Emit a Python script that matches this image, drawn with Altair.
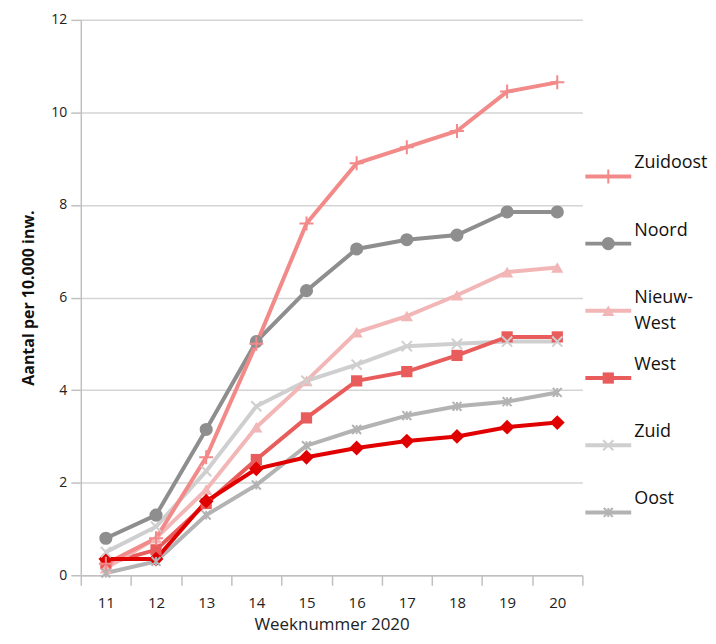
import altair as alt
import pandas as pd

weeks = [11, 12, 13, 14, 15, 16, 17, 18, 19, 20]

zuidoost = [0.25, 0.8, 2.55, 5.0, 7.6, 8.9, 9.25, 9.6, 10.45, 10.65]
noord = [0.8, 1.3, 3.15, 5.05, 6.15, 7.05, 7.25, 7.35, 7.85, 7.85]
nieuw_west = [0.15, 0.8, 1.85, 3.2, 4.2, 5.25, 5.6, 6.05, 6.55, 6.65]
west = [0.25, 0.55, 1.55, 2.5, 3.4, 4.2, 4.4, 4.75, 5.15, 5.15]
zuid = [0.5, 1.05, 2.25, 3.65, 4.2, 4.55, 4.95, 5.0, 5.05, 5.05]
oost = [0.05, 0.3, 1.3, 1.95, 2.8, 3.15, 3.45, 3.65, 3.75, 3.95]
centrum = [0.35, 0.35, 1.6, 2.3, 2.55, 2.75, 2.9, 3.0, 3.2, 3.3]

series_names = ["Oost", "Zuid", "West", "Nieuw-West", "Noord", "Zuidoost", "Centrum"]
series_values = [oost, zuid, west, nieuw_west, noord, zuidoost, centrum]
series_colors = ["#b3b3b3", "#cfcfcf", "#e85c5c", "#f2b6b6", "#8e8e8e", "#f28a8a", "#e00000"]
series_shapes = [
    "M-1,-1L1,1M-1,1L1,-1M0,-1L0,1",
    "M-1,-1L1,1M-1,1L1,-1",
    "square",
    "triangle-up",
    "circle",
    "M-1,0L1,0M0,-1L0,1",
    "diamond",
]
series_sizes = [80, 220, 320, 250, 240, 320, 280]
stroked_series = ["Oost", "Zuid", "Zuidoost"]

legend_names = ["Zuidoost", "Noord", "Nieuw-West", "West", "Zuid", "Oost"]
legend_labels = ["Zuidoost", "Noord", "Nieuw-\nWest", "West", "Zuid", "Oost"]

rows = []
for name, vals in zip(series_names, series_values):
    for w, v in zip(weeks, vals):
        rows.append({"series": name, "week": w, "value": v})
df = pd.DataFrame(rows)

color_scale = alt.Scale(domain=series_names, range=series_colors)
shape_scale = alt.Scale(domain=series_names, range=series_shapes)
size_scale = alt.Scale(domain=series_names, range=series_sizes)

FONT = "Open Sans"

base = alt.Chart(df).encode(
    x=alt.X(
        "week:O",
        scale=alt.Scale(type="band", paddingInner=0, paddingOuter=0),
        axis=alt.Axis(
            title="Weeknummer 2020",
            labelAngle=0,
            tickBand="extent",
            tickSize=10,
            tickColor="#c0c0c0",
            tickWidth=1.5,
            domainColor="#c0c0c0",
            domainWidth=1.5,
            labelFontSize=15,
            labelColor="#222222",
            labelPadding=10,
            titleFontSize=17,
            titleFontWeight="normal",
            titleColor="#222222",
            titlePadding=6,
            grid=False,
        ),
    ),
    y=alt.Y(
        "value:Q",
        scale=alt.Scale(domain=[0, 12], nice=False),
        axis=alt.Axis(
            title="Aantal per 10.000 inw.",
            values=[0, 2, 4, 6, 8, 10, 12],
            tickSize=10,
            tickColor="#c0c0c0",
            tickWidth=1.5,
            domainColor="#c0c0c0",
            domainWidth=1.5,
            gridColor="#d4d4d4",
            gridWidth=1.5,
            labelFontSize=14,
            labelColor="#222222",
            labelPadding=4,
            titleFontSize=16,
            titleFontWeight="bold",
            titleColor="#111111",
            titlePadding=14,
        ),
    ),
    color=alt.Color("series:N", scale=color_scale, legend=None),
)

lines = base.mark_line(strokeWidth=4)
pts_filled = base.transform_filter(
    alt.FieldOneOfPredicate(field="series", oneOf=[s for s in series_names if s not in stroked_series])
).mark_point(filled=True, opacity=1).encode(
    shape=alt.Shape("series:N", scale=shape_scale, legend=None),
    size=alt.Size("series:N", scale=size_scale, legend=None),
)
pts_stroked = base.transform_filter(
    alt.FieldOneOfPredicate(field="series", oneOf=stroked_series)
).mark_point(filled=False, opacity=1, strokeWidth=2).encode(
    shape=alt.Shape("series:N", scale=shape_scale, legend=None),
    size=alt.Size("series:N", scale=size_scale, legend=None),
)

main = alt.layer(lines, pts_filled, pts_stroked).properties(width=503, height=557)

# custom legend panel
leg_df = pd.DataFrame({"series": legend_names, "label": legend_labels})
leg_y = alt.Y("series:N", sort=legend_names, scale=alt.Scale(type="point", range=[157, 494], padding=0), axis=None)
leg_color = alt.Color("series:N", scale=color_scale, legend=None)
leg_base = alt.Chart(leg_df).encode(y=leg_y)
leg_rule = leg_base.mark_rule(strokeWidth=4).encode(x=alt.value(0), x2=alt.value(46), color=leg_color)
leg_filled = leg_base.transform_filter(
    alt.FieldOneOfPredicate(field="series", oneOf=[s for s in legend_names if s not in stroked_series])
).mark_point(filled=True, opacity=1).encode(
    x=alt.value(23),
    color=leg_color,
    shape=alt.Shape("series:N", scale=shape_scale, legend=None),
    size=alt.Size("series:N", scale=size_scale, legend=None),
)
leg_stroked = leg_base.transform_filter(
    alt.FieldOneOfPredicate(field="series", oneOf=[s for s in legend_names if s in stroked_series])
).mark_point(filled=False, opacity=1, strokeWidth=2).encode(
    x=alt.value(23),
    color=leg_color,
    shape=alt.Shape("series:N", scale=shape_scale, legend=None),
    size=alt.Size("series:N", scale=size_scale, legend=None),
)
leg_text1 = leg_base.transform_filter(alt.datum.series != "Nieuw-West").mark_text(
    align="left", baseline="middle", dy=-13, fontSize=18, font=FONT, color="#111111"
).encode(x=alt.value(49), text="label:N")
leg_text2 = leg_base.transform_filter(alt.datum.series == "Nieuw-West").mark_text(
    align="left", baseline="middle", dy=-13, fontSize=18, font=FONT, color="#111111",
    lineBreak="\n", lineHeight=26
).encode(x=alt.value(49), text="label:N")

legend = alt.layer(leg_rule, leg_filled, leg_stroked, leg_text1, leg_text2).properties(width=100, height=557)

chart = alt.hconcat(main, legend, spacing=0).properties(
    padding={"left": 12, "top": 4, "right": 0, "bottom": 2}
).configure_view(stroke=None).configure_axis(labelFont=FONT, titleFont=FONT)

chart.save("out.html", embed_options={"renderer": "svg", "actions": False})
